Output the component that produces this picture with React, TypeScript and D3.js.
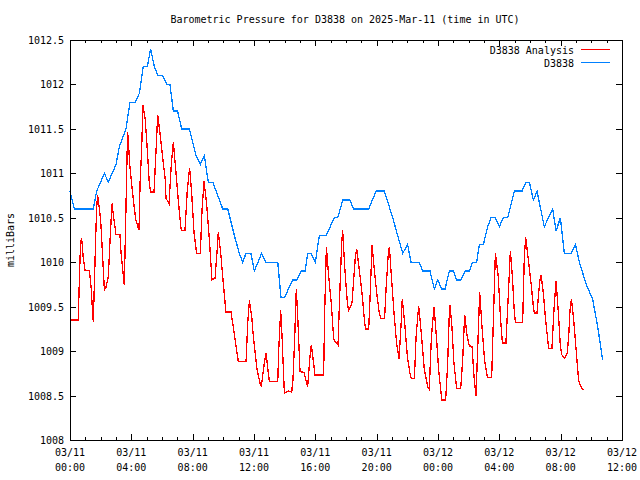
import React, { useEffect, useRef } from "react";
import * as d3 from "d3";

// Hours after 2025-03-11 00:00 UTC, and pressures (mbar)
const stationHours = [0, 0.28, 1.52, 1.74, 2.24, 2.5, 3.0, 3.22, 3.65, 3.91, 4.26, 4.52, 4.78, 5.04, 5.26, 5.5, 5.74, 6.05, 6.31, 6.52, 6.74, 7.02, 7.28, 7.78, 8.22, 8.5, 8.76, 9.02, 9.31, 9.96, 10.29, 10.72, 11.04, 11.26, 11.48, 11.8, 12.02, 12.5, 12.78, 13.55, 13.76, 13.98, 14.52, 14.78, 15.07, 15.33, 15.5, 15.72, 16.0, 16.26, 16.7, 17.24, 17.46, 17.79, 18.26, 18.48, 19.48, 19.96, 20.5, 21.05, 21.37, 21.7, 22.02, 22.24, 22.78, 23.0, 23.48, 23.76, 23.98, 24.24, 24.46, 24.74, 25.0, 25.22, 25.5, 25.78, 26.04, 26.26, 26.52, 26.7, 26.96, 27.24, 27.46, 27.74, 28.0, 28.26, 28.55, 28.98, 29.48, 29.74, 29.96, 30.22, 30.46, 30.93, 31.48, 31.7, 31.98, 32.24, 32.67, 32.96, 33.22, 33.65, 34.09, 34.42, 34.74];
const stationValues = [1010.8, 1010.6, 1010.6, 1010.8, 1011.0, 1010.9, 1011.1, 1011.3, 1011.5, 1011.8, 1011.8, 1011.9, 1012.2, 1012.2, 1012.4, 1012.2, 1012.1, 1012.1, 1012.0, 1012.0, 1011.7, 1011.7, 1011.5, 1011.5, 1011.2, 1011.1, 1011.2, 1010.9, 1010.9, 1010.6, 1010.6, 1010.3, 1010.1, 1010.0, 1010.1, 1010.1, 1009.9, 1010.1, 1010.0, 1010.0, 1009.6, 1009.6, 1009.8, 1009.8, 1009.9, 1009.9, 1010.1, 1010.1, 1010.0, 1010.3, 1010.3, 1010.5, 1010.5, 1010.7, 1010.7, 1010.6, 1010.6, 1010.8, 1010.8, 1010.5, 1010.3, 1010.1, 1010.2, 1010.0, 1010.0, 1009.9, 1009.9, 1009.7, 1009.8, 1009.7, 1009.7, 1009.9, 1009.9, 1009.8, 1009.8, 1009.9, 1009.9, 1010.0, 1010.0, 1010.2, 1010.2, 1010.4, 1010.5, 1010.5, 1010.4, 1010.5, 1010.5, 1010.8, 1010.8, 1010.9, 1010.9, 1010.7, 1010.8, 1010.4, 1010.6, 1010.35, 1010.5, 1010.1, 1010.1, 1010.2, 1010.0, 1009.76, 1009.58, 1009.27, 1008.9];

const analysisHours = [0, 0.54, 0.61, 0.67, 0.74, 0.78, 0.87, 0.98, 1.26, 1.33, 1.39, 1.48, 1.52, 1.61, 1.67, 1.74, 1.8, 1.91, 2.0, 2.13, 2.24, 2.35, 2.5, 2.63, 2.74, 2.83, 3.0, 3.26, 3.33, 3.48, 3.54, 3.65, 3.72, 3.76, 3.91, 4.13, 4.3, 4.5, 4.57, 4.67, 4.76, 4.91, 5.07, 5.17, 5.26, 5.48, 5.57, 5.63, 5.72, 5.91, 6.09, 6.22, 6.26, 6.46, 6.61, 6.74, 6.87, 7.04, 7.2, 7.26, 7.5, 7.65, 7.8, 7.93, 8.09, 8.26, 8.5, 8.61, 8.74, 8.91, 9.09, 9.26, 9.46, 9.61, 9.67, 9.83, 10.0, 10.17, 10.5, 10.65, 10.83, 10.98, 11.48, 11.59, 11.7, 11.85, 11.96, 12.2, 12.39, 12.48, 12.67, 12.78, 12.91, 13.0, 13.55, 13.61, 13.74, 13.83, 13.98, 14.24, 14.46, 14.54, 14.65, 14.76, 14.85, 15.0, 15.26, 15.5, 15.65, 15.74, 15.89, 15.98, 16.54, 16.61, 16.72, 16.87, 17.04, 17.2, 17.48, 17.57, 17.72, 17.78, 17.93, 18.09, 18.17, 18.39, 18.61, 18.7, 18.87, 19.07, 19.22, 19.3, 19.48, 19.57, 19.7, 19.85, 20.02, 20.17, 20.26, 20.52, 20.61, 20.76, 20.83, 20.96, 21.13, 21.3, 21.46, 21.61, 21.67, 21.83, 22.0, 22.17, 22.26, 22.46, 22.57, 22.74, 22.89, 23.11, 23.33, 23.43, 23.57, 23.74, 23.91, 24.04, 24.2, 24.24, 24.5, 24.63, 24.74, 24.78, 24.91, 25.04, 25.22, 25.48, 25.61, 25.74, 25.89, 26.04, 26.22, 26.35, 26.48, 26.61, 26.72, 26.87, 27.04, 27.22, 27.5, 27.65, 27.74, 27.93, 28.07, 28.2, 28.43, 28.61, 28.72, 28.85, 28.98, 29.05, 29.52, 29.63, 29.72, 29.87, 30.07, 30.22, 30.28, 30.46, 30.63, 30.72, 30.87, 31.04, 31.22, 31.43, 31.59, 31.7, 31.85, 31.98, 32.07, 32.26, 32.43, 32.52, 32.61, 32.7, 32.85, 33.02, 33.17, 33.33, 33.48];
const analysisValues = [1009.35, 1009.35, 1009.81, 1010.12, 1010.27, 1010.23, 1010.04, 1009.91, 1009.91, 1009.8, 1009.69, 1009.41, 1009.33, 1009.88, 1010.25, 1010.61, 1010.76, 1010.61, 1010.47, 1010.06, 1009.69, 1009.72, 1009.84, 1010.31, 1010.66, 1010.53, 1010.31, 1010.31, 1010.1, 1009.84, 1009.74, 1010.61, 1011.19, 1011.47, 1011.07, 1010.7, 1010.47, 1010.36, 1010.89, 1011.26, 1011.77, 1011.6, 1011.19, 1010.89, 1010.79, 1010.79, 1011.11, 1011.32, 1011.66, 1011.39, 1011.11, 1010.92, 1010.72, 1010.66, 1011.11, 1011.35, 1011.09, 1010.74, 1010.44, 1010.36, 1010.36, 1010.81, 1011.06, 1010.79, 1010.33, 1010.1, 1010.1, 1010.59, 1010.91, 1010.66, 1010.25, 1009.8, 1009.82, 1010.17, 1010.34, 1010.1, 1009.76, 1009.44, 1009.44, 1009.27, 1009.05, 1008.88, 1008.88, 1009.31, 1009.57, 1009.39, 1009.16, 1008.79, 1008.64, 1008.61, 1008.86, 1008.98, 1008.79, 1008.66, 1008.66, 1009.01, 1009.46, 1009.16, 1008.53, 1008.55, 1008.54, 1008.68, 1009.13, 1009.7, 1009.39, 1008.77, 1008.76, 1008.6, 1008.94, 1009.07, 1008.86, 1008.73, 1008.73, 1009.44, 1010.17, 1009.84, 1009.54, 1009.13, 1009.07, 1009.54, 1010.21, 1010.36, 1009.91, 1009.54, 1009.46, 1009.54, 1010.06, 1010.15, 1009.91, 1009.61, 1009.31, 1009.25, 1009.25, 1009.61, 1010.19, 1009.91, 1009.63, 1009.43, 1009.37, 1009.37, 1009.69, 1010.1, 1010.17, 1009.84, 1009.43, 1009.09, 1008.91, 1009.35, 1009.59, 1009.31, 1008.94, 1008.75, 1008.69, 1008.69, 1009.16, 1009.51, 1009.24, 1008.79, 1008.6, 1008.57, 1009.16, 1009.5, 1009.13, 1008.79, 1008.53, 1008.45, 1008.45, 1008.86, 1009.43, 1009.52, 1009.27, 1008.86, 1008.58, 1008.58, 1008.9, 1009.41, 1009.18, 1009.06, 1009.05, 1008.71, 1008.5, 1009.13, 1009.66, 1009.27, 1008.9, 1008.7, 1008.7, 1009.57, 1010.1, 1009.84, 1009.39, 1009.09, 1009.09, 1009.72, 1010.13, 1009.84, 1009.43, 1009.32, 1009.32, 1010.06, 1010.28, 1010.06, 1009.76, 1009.5, 1009.43, 1009.43, 1009.78, 1009.86, 1009.65, 1009.31, 1009.03, 1009.03, 1009.54, 1009.79, 1009.43, 1009.05, 1008.96, 1008.92, 1008.98, 1009.16, 1009.46, 1009.59, 1009.35, 1008.99, 1008.67, 1008.6, 1008.56];

const yTicks = [1008, 1008.5, 1009, 1009.5, 1010, 1010.5, 1011, 1011.5, 1012, 1012.5];
const seriesNames = ["D3838 Analysis", "D3838"];
const seriesColors = ["#ff0000", "#0080ff"];
const titleText = "Barometric Pressure for D3838 on 2025-Mar-11 (time in UTC)";
const yLabel = "milliBars";

const START = Date.UTC(2025, 2, 11, 0, 0);
const END = Date.UTC(2025, 2, 12, 12, 0);

export default function App() {
  const ref = useRef<SVGSVGElement>(null);

  useEffect(() => {
    const svg = d3.select(ref.current);
    svg.selectAll("*").remove();
    const W = 640, H = 480;
    const L = 70, R = 622, T = 40, B = 440;
    const font = "'DejaVu Sans Mono', 'Liberation Mono', monospace";

    svg.append("rect").attr("width", W).attr("height", H).attr("fill", "#fff");

    const x = d3.scaleUtc().domain([new Date(START), new Date(END)]).range([L, R]);
    const y = d3.scaleLinear().domain([1008, 1012.5]).range([B, T]);
    const toDate = (h: number) => new Date(START + h * 3600000);

    // ticks
    const g = svg.append("g").attr("stroke", "#000").attr("stroke-width", 1).attr("shape-rendering", "crispEdges");
    const hourTicks = x.ticks(d3.utcHour.every(1) as any);
    hourTicks.forEach((d) => {
      const px = Math.round(x(d)) + 0.5;
      const major = d.getUTCHours() % 4 === 0;
      const len = major ? 6 : 3;
      g.append("line").attr("x1", px).attr("x2", px).attr("y1", B).attr("y2", B - len);
      g.append("line").attr("x1", px).attr("x2", px).attr("y1", T).attr("y2", T + len);
    });
    yTicks.forEach((v) => {
      const py = Math.round(y(v)) + 0.5;
      g.append("line").attr("x1", L).attr("x2", L + 6).attr("y1", py).attr("y2", py);
      g.append("line").attr("x1", R).attr("x2", R - 6).attr("y1", py).attr("y2", py);
    });

    // labels
    const txt = svg.append("g").attr("font-family", font).attr("font-size", 10).attr("fill", "#000");
    yTicks.forEach((v) => {
      txt.append("text").attr("x", 64).attr("y", y(v) + 4).attr("text-anchor", "end").text(String(v));
    });
    const fmtD = d3.utcFormat("%m/%d");
    const fmtT = d3.utcFormat("%H:%M");
    hourTicks.filter((d) => d.getUTCHours() % 4 === 0).forEach((d) => {
      const px = x(d);
      txt.append("text").attr("x", px).attr("y", 456).attr("text-anchor", "middle").text(fmtD(d));
      txt.append("text").attr("x", px).attr("y", 471).attr("text-anchor", "middle").text(fmtT(d));
    });
    txt.append("text").attr("x", 345).attr("y", 23).attr("text-anchor", "middle").text(titleText);
    txt.append("text").attr("transform", "translate(14,240) rotate(-90)").attr("text-anchor", "middle").text(yLabel);

    // series
    const line = d3.line<[number, number]>().x((d) => x(toDate(d[0]))).y((d) => y(d[1]));
    const aData = analysisHours.map((h, i) => [h, analysisValues[i]] as [number, number]);
    const sData = stationHours.map((h, i) => [h, stationValues[i]] as [number, number]);
    svg.append("path").attr("d", line(sData)).attr("fill", "none").attr("stroke", seriesColors[1])
      .attr("stroke-width", 1.3).attr("shape-rendering", "crispEdges");
    svg.append("path").attr("d", line(aData)).attr("fill", "none").attr("stroke", seriesColors[0])
      .attr("stroke-width", 1.3).attr("shape-rendering", "crispEdges");

    // legend
    seriesNames.forEach((name, i) => {
      const ly = 49.5 + i * 13;
      txt.append("text").attr("x", 574).attr("y", ly + 4).attr("text-anchor", "end").text(name);
      svg.append("line").attr("x1", 581).attr("x2", 610).attr("y1", ly).attr("y2", ly)
        .attr("stroke", seriesColors[i]).attr("stroke-width", 1).attr("shape-rendering", "crispEdges");
    });

    // border
    svg.append("rect").attr("x", L + 0.5).attr("y", T + 0.5).attr("width", R - L).attr("height", B - T)
      .attr("fill", "none").attr("stroke", "#000").attr("stroke-width", 1).attr("shape-rendering", "crispEdges");
  }, []);

  return (
    <svg ref={ref} width={640} height={480} style={{ position: "absolute", left: 0, top: 0, display: "block" }} />
  );
}
